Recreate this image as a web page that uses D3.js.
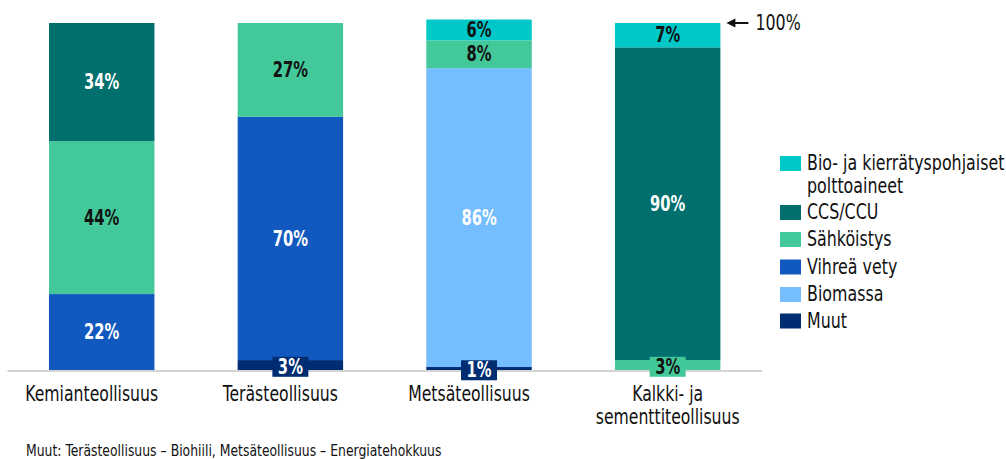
<!DOCTYPE html>
<html>
<head>
<meta charset="utf-8">
<script src="https://cdn.jsdelivr.net/npm/d3@7"></script>
<style>
  html, body { margin: 0; padding: 0; background: #fff; }
  svg text { font-family: "DejaVu Sans Condensed", "DejaVu Sans", sans-serif; }
</style>
</head>
<body>
<svg id="chart" width="1006" height="459"></svg>
<script>
// Industry sectors (x axis); the last one wraps onto two lines
const categories = ["Kemianteollisuus", "Terästeollisuus", "Metsäteollisuus", "Kalkki- ja sementtiteollisuus"];
const categoryLines = [["Kemianteollisuus"], ["Terästeollisuus"], ["Metsäteollisuus"], ["Kalkki- ja", "sementtiteollisuus"]];

// Emission-reduction means, stacked bottom to top
const seriesNames = ["Muut", "Biomassa", "Vihreä vety", "Sähköistys", "CCS/CCU", "Bio- ja kierrätyspohjaiset polttoaineet"];
const muut        = [0, 3, 1, 0];
const biomassa    = [0, 0, 86, 0];
const vihreaVety  = [22, 70, 0, 0];
const sahkoistys  = [44, 27, 8, 3];
const ccs         = [34, 0, 0, 90];
const bioPoltto   = [0, 0, 6, 7];
const seriesValues = [muut, biomassa, vihreaVety, sahkoistys, ccs, bioPoltto];

const colors     = ["#002d72", "#74bdff", "#1259bf", "#43c89a", "#006f6e", "#00c8c8"];
const textColors = ["#fff", "#fff", "#fff", "#111", "#fff", "#111"];

const footnote = "Muut: Terästeollisuus – Biohiili, Metsäteollisuus – Energiatehokkuus";
const hundredLabel = "100%";

const svg = d3.select("#chart");

// Text drawn horizontally condensed around its anchor point
function condensedText(parent, x, y, str, o) {
  const g = parent.append("g")
    .attr("transform", `translate(${x},${y}) scale(${o.k || 0.86},1)`);
  return g.append("text")
    .attr("x", 0).attr("y", 0)
    .attr("text-anchor", o.anchor || "start")
    .attr("dominant-baseline", o.baseline || "auto")
    .attr("font-size", o.size || 20)
    .attr("font-weight", o.weight || "normal")
    .attr("fill", o.fill || "#111")
    .text(str);
}

const rows = categories.map((c, i) => {
  const r = { category: c };
  seriesNames.forEach((s, j) => r[s] = seriesValues[j][i]);
  return r;
});
const stacked = d3.stack().keys(seriesNames)(rows);

const x = d3.scaleBand().domain(categories).range([7.4, 762])
  .paddingInner(0.441).paddingOuter(0.2205);
const y = d3.scaleLinear().domain([0, 100]).range([370.5, 23]);

// Bars
const layers = svg.append("g").selectAll("g").data(stacked).join("g")
  .attr("fill", (d, i) => colors[i]);
layers.selectAll("rect").data(d => d.map(p => ({ p, cat: p.data.category })))
  .join("rect")
  .filter(d => d.p[1] - d.p[0] > 0)
  .attr("x", d => x(d.cat))
  .attr("width", x.bandwidth())
  .attr("y", d => y(d.p[1]))
  .attr("height", d => y(d.p[0]) - y(d.p[1]));

// Baseline
svg.append("line")
  .attr("x1", x.range()[0]).attr("x2", x.range()[1])
  .attr("y1", y(0) + 0.5).attr("y2", y(0) + 0.5)
  .attr("stroke", "#d4d4d4").attr("stroke-width", 2);

// Value labels
const labelG = svg.append("g");
stacked.forEach((layer, i) => {
  layer.forEach(p => {
    const v = p[1] - p[0];
    if (v <= 0) return;
    const cx = x(p.data.category) + x.bandwidth() / 2;
    const cy = (y(p[0]) + y(p[1])) / 2;
    if (v < 5) {
      labelG.append("rect")
        .attr("x", cx - 18).attr("y", cy - 8.5)
        .attr("width", 36).attr("height", 20)
        .attr("fill", colors[i]);
    }
    condensedText(labelG, cx, cy + (v < 5 ? 1.5 : 0), v + "%", {
      k: 0.8, anchor: "middle", baseline: "central",
      size: 20.5, weight: "bold", fill: textColors[i]
    });
  });
});

// Category labels (single-line ones sit slightly left of the bar centre)
categoryLines.forEach((lines, i) => {
  const cx = x(categories[i]) + x.bandwidth() / 2 + (lines.length === 1 ? -10 : 0);
  lines.forEach((l, k) => condensedText(svg, cx, 401 + k * 23, l, {
    k: 0.85, anchor: "middle", size: 20.5
  }));
});

// 100% marker
const lastRight = x(categories[3]) + x.bandwidth();
svg.append("line")
  .attr("x1", lastRight + 14).attr("x2", lastRight + 28)
  .attr("y1", y(100)).attr("y2", y(100))
  .attr("stroke", "#111").attr("stroke-width", 2);
svg.append("path")
  .attr("d", `M${lastRight + 6},${y(100)} l9,-4.5 l0,9 z`)
  .attr("fill", "#111");
condensedText(svg, lastRight + 35, y(100), hundredLabel, {
  k: 0.86, baseline: "central", size: 20.5
});

// Legend (top to bottom = reverse stack order)
const legendItems = [
  { i: 5, lines: ["Bio- ja kierrätyspohjaiset", "polttoaineet"], cy: 163.5 },
  { i: 4, lines: ["CCS/CCU"], cy: 212.5 },
  { i: 3, lines: ["Sähköistys"], cy: 239.5 },
  { i: 2, lines: ["Vihreä vety"], cy: 267 },
  { i: 1, lines: ["Biomassa"], cy: 294.5 },
  { i: 0, lines: ["Muut"], cy: 321 }
];
const lg = svg.append("g");
legendItems.forEach(it => {
  lg.append("rect")
    .attr("x", 780).attr("y", it.cy - 7.5)
    .attr("width", 21).attr("height", 15)
    .attr("fill", colors[it.i]);
  it.lines.forEach((l, k) => condensedText(lg, 807, it.cy + k * 23, l, {
    k: 0.86, baseline: "central", size: 20.5
  }));
});

// Footnote
condensedText(svg, 26, 456, footnote, { k: 0.92, size: 15 });
</script>
</body>
</html>
